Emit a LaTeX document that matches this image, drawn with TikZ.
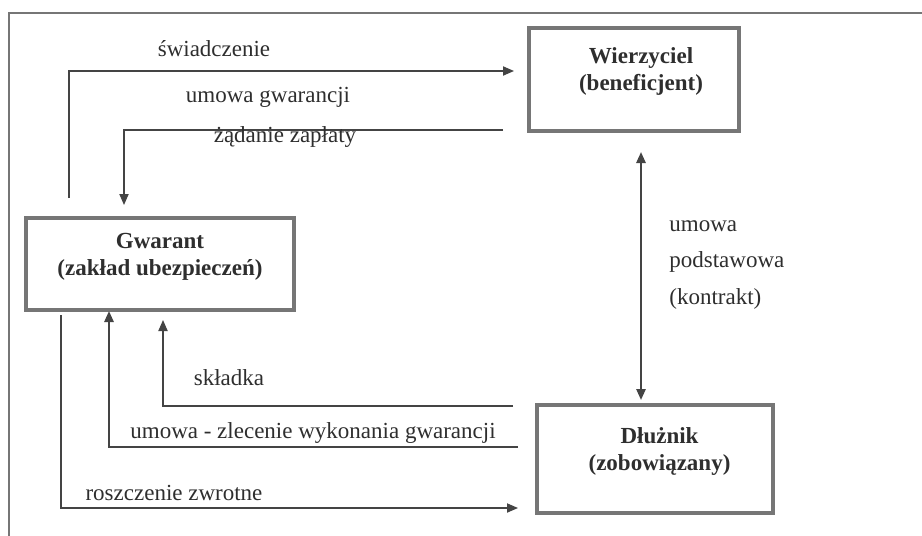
\documentclass[tikz,border=0pt]{standalone}
\usepackage{fontspec}
\setmainfont{Liberation Serif}
\usetikzlibrary{arrows.meta}

\definecolor{ramka}{HTML}{767676}
\definecolor{linia}{HTML}{444444}
\definecolor{tekst}{HTML}{2E2E2E}

\tikzset{
  grot/.tip={Triangle[length=5.5pt,width=4.6pt]},
  podmiot/.style={draw=ramka, line width=1.6pt, minimum width=#1, inner sep=0pt},
  nazwa/.style={text=tekst, font=\fontsize{11.5}{13.5}\selectfont\bfseries, align=center, inner sep=0pt},
  opis/.style={text=tekst, font=\fontsize{11.5}{14}\selectfont, inner sep=0pt},
  strzalka/.style={draw=linia, line width=0.6pt, -grot},
  gruba/.style={strzalka, line width=1.1pt}
}

\begin{document}
\begin{tikzpicture}[x=0.5pt, y=-0.5pt]
\useasboundingbox (0,0) rectangle (922,536);
\draw[ramka, line width=0.8pt] (922,13) -- (9,13) -- (9,536);

% uczestnicy
\node[podmiot=105pt, minimum height=51.5pt] (wier) at (634,79.5) {};
\node[nazwa] (wiert) at (641,71.5) {Wierzyciel\\(beneficjent)};
\node[podmiot=134pt, minimum height=46pt] (gwar) at (160,264) {};
\node[nazwa] (gwart) at (160,256.5) {Gwarant\\(zakład ubezpieczeń)};
\node[podmiot=118pt, minimum height=54pt] (dluz) at (655,459) {};
\node[nazwa] (dluzt) at (659.5,451.5) {Dłużnik\\(zobowiązany)};

% konce strzalek
\coordinate (swA) at (69,198);
\coordinate (swB) at (514,71);
\coordinate (zzA) at (503,130);
\coordinate (zzB) at (124,205);
\coordinate (pdA) at (641,152);
\coordinate (pdB) at (641,400);
\coordinate (skA) at (513,406);
\coordinate (skB) at (163,320);
\coordinate (zlA) at (518,447);
\coordinate (zlB) at (109,311);
\coordinate (roA) at (61,315);
\coordinate (roB) at (518,508);

\draw[strzalka] (swA) |- (swB);
\draw[strzalka] (zzA) -| (zzB);
\draw[gruba, grot-grot] (pdA) -- (pdB);
\draw[strzalka] (skA) -| (skB);
\draw[gruba] (zlA) -| (zlB);
\draw[strzalka] (roA) |- (roB);

% podpisy
\node[opis] (swiad) at (214,49) {świadczenie};
\node[opis] (umgw) at (268,97) {umowa gwarancji};
\node[opis] (zadanie) at (285,137) {żądanie zapłaty};
\node[opis, anchor=west, align=left, font=\fontsize{11.5}{18.3}\selectfont] (podst) at (669,265) {umowa\\podstawowa\\(kontrakt)};
\node[opis] (skladka) at (229,378) {składka};
\node[opis] (zlecenie) at (313,433) {umowa - zlecenie wykonania gwarancji};
\node[opis] (roszcz) at (174,493) {roszczenie zwrotne};
\end{tikzpicture}
\end{document}
